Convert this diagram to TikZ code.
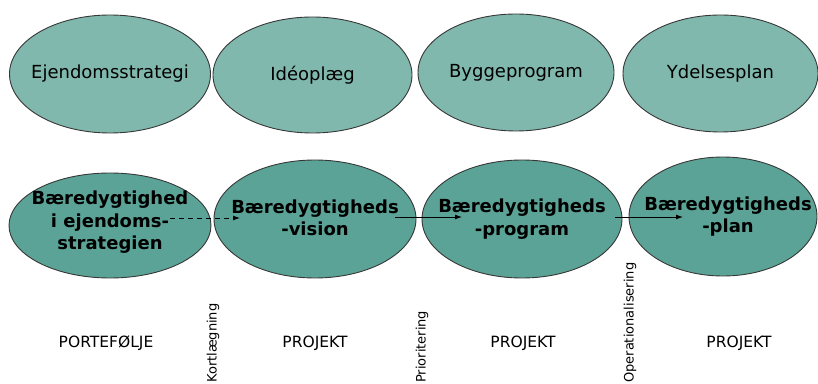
\documentclass[tikz,border=0pt]{standalone}
\usepackage{fontspec}
\setmainfont{DejaVu Sans}
\usetikzlibrary{shapes.geometric,arrows.meta}
\definecolor{lightteal}{RGB}{128,184,173}
\definecolor{darkteal}{RGB}{91,163,150}
\definecolor{rimgray}{RGB}{55,55,55}
\tikzset{
	>={Latex[length=7pt,width=5pt]},
	oval/.style = {
			ellipse,
			draw      = rimgray,
			line width = 0.9pt,
			inner sep = 0pt,
		},
	topoval/.style = {oval, fill=lightteal},
	bottomoval/.style = {oval, fill=darkteal},
	toptext/.style = {align=center, inner sep=0pt, font=\fontsize{18}{22}\selectfont},
	bottomtext/.style = {align=center, inner sep=0pt, font=\fontsize{18}{22.5}\selectfont\bfseries},
	stagelabel/.style = {font=\fontsize{15.5}{18}\selectfont},
	passlabel/.style = {rotate=90, anchor=west, inner sep=0pt, font=\fontsize{13}{15}\selectfont},
	flow/.style = {->, line width=0.9pt}
}

\begin{document}
\begin{tikzpicture}[x=1pt,y=1pt]
    \useasboundingbox (0,0) rectangle (818,383);

    % top row
    \node[topoval, minimum width=201pt, minimum height=118pt] at (110,309) (strategy) {};
    \node[topoval, minimum width=199pt, minimum height=116pt] at (312.5,308) (idea) {};
    \node[topoval, minimum width=196pt, minimum height=117pt] at (516,310.5) (buildprog) {};
    \node[topoval, minimum width=195pt, minimum height=117pt] at (720.5,309.5) (delivery) {};

    \node[toptext] at (strategy) {Ejendomsstrategi};
    \node[toptext] at (idea) {Idéoplæg};
    \node[toptext] at (buildprog) {Byggeprogram};
    \node[toptext] at (delivery) {Ydelsesplan};

    % bottom row
    \node[bottomoval, minimum width=202pt, minimum height=105pt] at (110,157.5) (sstrategy) {};
    \node[bottomoval, minimum width=202pt, minimum height=118pt] at (315,164) (svision) {};
    \node[bottomoval, minimum width=200pt, minimum height=118pt] at (522,164) (sprogram) {};
    \node[bottomoval, minimum width=188pt, minimum height=119pt] at (723,166.5) (splan) {};

    \node[bottomtext] at ([yshift=3pt]sstrategy.center) {Bæredygtighed\\i ejendoms-\\strategien};
    \node[bottomtext] at ([yshift=1pt]svision.center) {Bæredygtigheds\\-vision};
    \node[bottomtext] at (sprogram) {Bæredygtigheds\\-program};
    \node[bottomtext] at ([xshift=5pt]splan.center) {Bæredygtigheds\\-plan};

    \coordinate (a1) at (170,165);
    \coordinate (b1) at (240,165);
    \coordinate (a2) at (395,166);
    \coordinate (b2) at (462,166);
    \coordinate (a3) at (615,166);
    \coordinate (b3) at (683,166);

    \draw[flow, dash pattern=on 5pt off 4pt] (a1) -- (b1);
    \draw[flow] (a2) -- (b2);
    \draw[flow] (a3) -- (b3);

    % labels
    \node[stagelabel] at (106,40) (portfolio) {PORTEFØLJE};
    \node[stagelabel] at (315,40) (project1) {PROJEKT};
    \node[stagelabel] at (523,40) (project2) {PROJEKT};
    \node[stagelabel] at (739,40) (project3) {PROJEKT};

    \node[passlabel] at (213,0) (mapping) {Kortlægning};
    \node[passlabel] at (422,0) (priority) {Prioritering};
    \node[passlabel] at (630,0) (operation) {Operationalisering};
  \end{tikzpicture}
\end{document}
